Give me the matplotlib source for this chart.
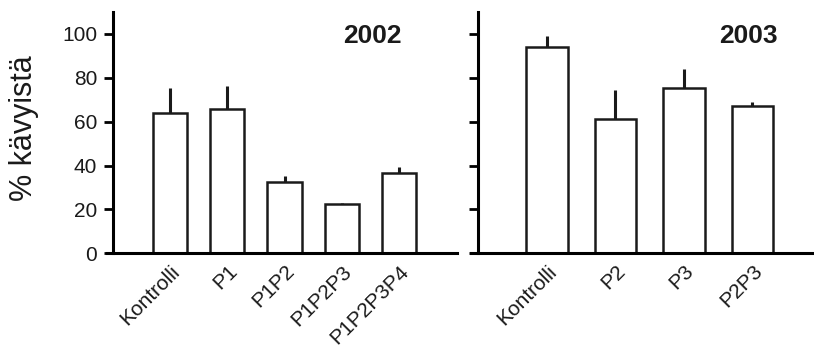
import matplotlib
matplotlib.use("Agg")
import matplotlib.pyplot as plt

plt.rcParams['font.family'] = ['Liberation Sans', 'DejaVu Sans']

labels_2002 = ['Kontrolli', 'P1', 'P1P2', 'P1P2P3', 'P1P2P3P4']
values_2002 = [64.1, 65.8, 32.4, 22.5, 36.5]
errors_2002 = [11.1, 10.5, 3.0, 0.5, 3.0]

labels_2003 = ['Kontrolli', 'P2', 'P3', 'P2P3']
values_2003 = [93.9, 61.1, 75.4, 67.2]
errors_2003 = [5.2, 13.4, 8.6, 1.6]

yticks = [0, 20, 40, 60, 80, 100]


def panel(ax, labels, values, errors, year, xlim, width, spine_pos, year_x, show_labels):
    x = list(range(len(labels)))
    ax.bar(x, values, width=width, color='white', edgecolor='#1a1a1a', linewidth=1.8, zorder=2)
    ax.errorbar(x, values, yerr=[[0] * len(errors), errors], fmt='none',
                ecolor='#1a1a1a', elinewidth=2.2, capsize=0, zorder=1)
    ax.set_xlim(*xlim)
    ax.set_ylim(0, 110)
    ax.set_yticks(yticks)
    ax.set_xticks(x)
    ax.set_xticklabels(labels, rotation=45, ha='right', va='top',
                       rotation_mode='anchor', fontsize=15, color='#1a1a1a')
    ax.tick_params(axis='x', length=0, pad=6)
    ax.tick_params(axis='y', direction='out', length=6.5, width=2, labelsize=15,
                   pad=5, labelcolor='#1a1a1a')
    if not show_labels:
        ax.tick_params(axis='y', labelleft=False)
    for s in ['top', 'right']:
        ax.spines[s].set_visible(False)
    ax.spines['left'].set_position(('axes', spine_pos))
    ax.spines['left'].set_linewidth(2.2)
    ax.spines['bottom'].set_linewidth(2.2)
    ax.text(year_x, 0.9, year, transform=ax.transAxes, ha='center', va='center',
            fontsize=19, fontweight='bold', color='#1a1a1a')


fig = plt.figure(figsize=(8.14, 3.5), dpi=100)
ax1 = fig.add_axes([107 / 814, 0.2763, 350 / 814, 0.6894])
ax2 = fig.add_axes([471 / 814, 0.2763, 343 / 814, 0.6894])

panel(ax1, labels_2002, values_2002, errors_2002, '2002', (-1.10, 5.01), 0.6, 6 / 350, 0.757, True)
panel(ax2, labels_2003, values_2003, errors_2003, '2003', (-1.11, 3.90), 0.61, 7 / 343, 0.81, False)

ax1.set_ylabel('% kävyistä', fontsize=22, color='#1a1a1a')
ax1.yaxis.set_label_coords(-0.195, 0.52)

fig.savefig('out.png', dpi=100)
